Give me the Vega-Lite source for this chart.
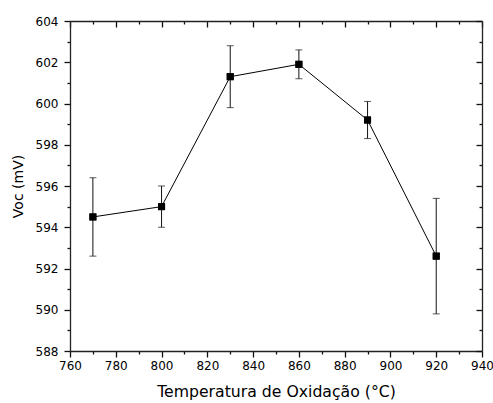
{
  "$schema": "https://vega.github.io/schema/vega-lite/v6.json",
  "width": 412,
  "height": 330,
  "autosize": "none",
  "padding": {"left": 70, "top": 21, "right": 11, "bottom": 52},
  "background": "white",
  "config": {
    "view": {"stroke": null},
    "axis": {
      "labelFont": "DejaVu Sans",
      "labelFontSize": 12,
      "labelColor": "#000",
      "titleFont": "DejaVu Sans",
      "titleFontWeight": "normal",
      "titleColor": "#000",
      "domainColor": "#222",
      "domainWidth": 1.3,
      "tickColor": "#111",
      "tickWidth": 1.3,
      "grid": false
    }
  },
  "data": {
    "values": [
      {"T": 770, "Voc": 594.5, "lo": 592.6, "hi": 596.4},
      {"T": 800, "Voc": 595.0, "lo": 594.0, "hi": 596.0},
      {"T": 830, "Voc": 601.3, "lo": 599.8, "hi": 602.8},
      {"T": 860, "Voc": 601.9, "lo": 601.2, "hi": 602.6},
      {"T": 890, "Voc": 599.2, "lo": 598.3, "hi": 600.1},
      {"T": 920, "Voc": 592.6, "lo": 589.8, "hi": 595.4}
    ]
  },
  "layer": [
    {
      "mark": {"type": "point", "shape": "square", "filled": true, "size": 49, "color": "#000", "opacity": 1},
      "encoding": {
        "x": {"field": "T", "type": "quantitative",
          "scale": {"domain": [760, 940], "nice": false, "zero": false},
          "axis": {"orient": "bottom", "ticks": true,
            "values": [760, 770, 780, 790, 800, 810, 820, 830, 840, 850, 860, 870, 880, 890, 900, 910, 920, 930, 940],
            "tickSize": {"condition": {"test": "datum.value % 20 === 0", "value": 6}, "value": 3},
            "labelExpr": "datum.value % 20 === 0 ? datum.label : ''",
            "labelPadding": 3, "title": "Temperatura de Oxidação (°C)",
            "titleFontSize": 15.7, "titlePadding": 13, "labelFlush": false}},
        "y": {"field": "Voc", "type": "quantitative",
          "scale": {"domain": [588, 604], "nice": false, "zero": false},
          "axis": {"orient": "left", "ticks": true,
            "values": [588, 589, 590, 591, 592, 593, 594, 595, 596, 597, 598, 599, 600, 601, 602, 603, 604],
            "tickSize": {"condition": {"test": "datum.value % 2 === 0", "value": 6}, "value": 3},
            "labelExpr": "datum.value % 2 === 0 ? datum.label : ''",
            "labelPadding": 6, "title": "Voc (mV)", "titleFontSize": 14,
            "titlePadding": 10, "labelFlush": false}}
      }
    },
    {
      "mark": {"type": "line", "color": "#000", "strokeWidth": 1},
      "encoding": {
        "x": {"field": "T", "type": "quantitative",
          "scale": {"domain": [760, 940], "nice": false, "zero": false},
          "axis": {"orient": "top",
            "values": [760, 770, 780, 790, 800, 810, 820, 830, 840, 850, 860, 870, 880, 890, 900, 910, 920, 930, 940],
            "tickSize": {"condition": {"test": "datum.value % 20 === 0", "value": -6}, "value": -3},
            "labels": false, "title": null}},
        "y": {"field": "Voc", "type": "quantitative",
          "scale": {"domain": [588, 604], "nice": false, "zero": false},
          "axis": {"orient": "right",
            "values": [588, 589, 590, 591, 592, 593, 594, 595, 596, 597, 598, 599, 600, 601, 602, 603, 604],
            "tickSize": {"condition": {"test": "datum.value % 2 === 0", "value": -6}, "value": -3},
            "labels": false, "title": null}}
      }
    },
    {
      "mark": {"type": "rule", "color": "#111", "strokeWidth": 1},
      "encoding": {
        "x": {"field": "T", "type": "quantitative",
          "scale": {"domain": [760, 940], "nice": false, "zero": false}, "axis": null},
        "y": {"field": "lo", "type": "quantitative",
          "scale": {"domain": [588, 604], "nice": false, "zero": false}, "axis": null},
        "y2": {"field": "hi"}
      }
    },
    {
      "mark": {"type": "tick", "orient": "horizontal", "size": 7, "thickness": 1, "color": "#111"},
      "encoding": {
        "x": {"field": "T", "type": "quantitative",
          "scale": {"domain": [760, 940], "nice": false, "zero": false}, "axis": null},
        "y": {"field": "hi", "type": "quantitative",
          "scale": {"domain": [588, 604], "nice": false, "zero": false}, "axis": null}
      }
    },
    {
      "mark": {"type": "tick", "orient": "horizontal", "size": 7, "thickness": 1, "color": "#111"},
      "encoding": {
        "x": {"field": "T", "type": "quantitative",
          "scale": {"domain": [760, 940], "nice": false, "zero": false}, "axis": null},
        "y": {"field": "lo", "type": "quantitative",
          "scale": {"domain": [588, 604], "nice": false, "zero": false}, "axis": null}
      }
    },
    {
      "mark": {"type": "point", "shape": "square", "filled": true, "size": 49, "color": "#000", "opacity": 1},
      "encoding": {
        "x": {"field": "T", "type": "quantitative",
          "scale": {"domain": [760, 940], "nice": false, "zero": false}, "axis": null},
        "y": {"field": "Voc", "type": "quantitative",
          "scale": {"domain": [588, 604], "nice": false, "zero": false}, "axis": null}
      }
    }
  ],
  "resolve": {"axis": {"x": "independent", "y": "independent"}}
}
